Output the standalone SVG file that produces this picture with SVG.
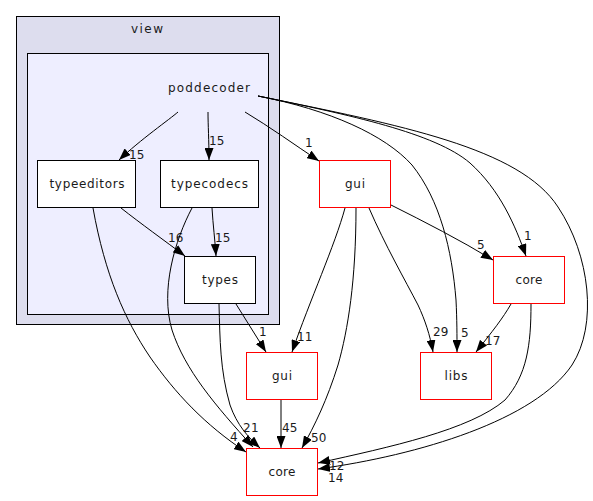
<svg xmlns="http://www.w3.org/2000/svg" width="593" height="501" viewBox="0 0 593 501">
<defs>
<marker id="arr" viewBox="0 0 12 9" refX="12" refY="4.5" markerWidth="12" markerHeight="9" markerUnits="userSpaceOnUse" orient="auto">
<path d="M0,0 L12,4.5 L0,9 z" fill="#000"/>
</marker>
<style>
text{font-family:"DejaVu Sans","Liberation Sans",sans-serif;font-size:12px;fill:#1a1a1a}
.n{text-anchor:middle}
.l{font-size:12px}
.box{fill:#fff;stroke:#000;stroke-width:1}
.ext{fill:#fff;stroke:#ff0000;stroke-width:1}
.e{fill:none;stroke:#000;stroke-width:1;marker-end:url(#arr)}
</style>
</defs>
<rect width="593" height="501" fill="#fff"/>
<g id="cluster_view">
<rect x="16.5" y="16.5" width="263" height="308" fill="#ddddee" stroke="#000"/>
<text class="n" x="147" y="33" textLength="32" lengthAdjust="spacing">view</text>
</g>
<g id="cluster_poddecoder">
<rect x="27.5" y="53.5" width="241" height="261" fill="#eeeeff" stroke="#000"/>
<text class="n" x="209" y="92" textLength="82" lengthAdjust="spacing">poddecoder</text>
</g>
<g id="typeeditors">
<rect class="box" x="37.5" y="160.5" width="98" height="47"/>
<text class="n" x="87" y="188" textLength="75" lengthAdjust="spacing">typeeditors</text>
</g>
<g id="typecodecs">
<rect class="box" x="160.5" y="160.5" width="98" height="47"/>
<text class="n" x="209.5" y="188" textLength="77" lengthAdjust="spacing">typecodecs</text>
</g>
<g id="types">
<rect class="box" x="184.5" y="256.5" width="71" height="47"/>
<text class="n" x="220" y="284" textLength="36" lengthAdjust="spacing">types</text>
</g>
<g id="gui_top">
<rect class="ext" x="319.5" y="160.5" width="71" height="47"/>
<text class="n" x="355" y="188" textLength="20" lengthAdjust="spacing">gui</text>
</g>
<g id="core_right">
<rect class="ext" x="493.5" y="256.5" width="71" height="47"/>
<text class="n" x="529" y="284" textLength="27" lengthAdjust="spacing">core</text>
</g>
<g id="gui_bottom">
<rect class="ext" x="246.5" y="352.5" width="71" height="47"/>
<text class="n" x="282" y="380" textLength="20" lengthAdjust="spacing">gui</text>
</g>
<g id="libs">
<rect class="ext" x="420.5" y="352.5" width="71" height="47"/>
<text class="n" x="456" y="380" textLength="23" lengthAdjust="spacing">libs</text>
</g>
<g id="core_bottom">
<rect class="ext" x="246.5" y="448.5" width="71" height="47"/>
<text class="n" x="282" y="476" textLength="27" lengthAdjust="spacing">core</text>
</g>
<g id="connectors">
<path class="e" d="M178,112 C170,119 140,140 119,160"/>
<text class="l" x="129" y="159">15</text>
<path class="e" d="M208,112 C208,125 209,140 209,160"/>
<text class="l" x="209" y="145">15</text>
<path class="e" d="M245,112 C270,127 295,145 319,161"/>
<text class="l" x="305" y="147">1</text>
<path class="e" d="M121,208 C140,223 165,241 185,256"/>
<text class="l" x="168" y="242">16</text>
<path class="e" d="M212,208 C213,225 215,240 216,256"/>
<text class="l" x="215" y="242">15</text>
<path class="e" d="M236,304 C246,320 256,336 266,352"/>
<text class="l" x="259" y="336">1</text>
<path class="e" d="M345,208 C335,245 310,300 292,352"/>
<text class="l" x="297" y="341">11</text>
<path class="e" d="M356,208 C356,280 348,330 338,365 C327,400 315,425 302,448"/>
<text class="l" x="311" y="442">50</text>
<path class="e" d="M369,208 C385,245 405,280 418,305 C425,320 430,335 433,352"/>
<text class="l" x="433" y="336">29</text>
<path class="e" d="M391,205 C425,222 460,240 493,260"/>
<text class="l" x="477" y="249">5</text>
<path class="e" d="M258,96 C330,110 385,135 412,165 C440,200 452,250 456,300 C457,320 457,335 457,352"/>
<text class="l" x="461" y="337">5</text>
<path class="e" d="M258,96 C350,115 435,133 470,163 C500,190 515,225 526,256"/>
<text class="l" x="524" y="240">1</text>
<path class="e" d="M258,96 C400,125 520,148 558,207 C590,255 598,325 572,365 C535,420 420,455 318,469"/>
<text class="l" x="328" y="482">14</text>
<path class="e" d="M511,304 C503,318 492,332 476,352"/>
<text class="l" x="485" y="345">17</text>
<path class="e" d="M531,304 C531,345 527,375 505,400 C470,430 390,447 318,463"/>
<text class="l" x="329" y="470">12</text>
<path class="e" d="M93,208 C105,275 125,320 150,357 C175,393 205,425 246,452"/>
<text class="l" x="230" y="441">4</text>
<path class="e" d="M192,208 C175,240 160,290 172,330 C185,370 215,405 253,447"/>
<text class="l" x="243" y="432">2</text>
<path class="e" d="M219,304 C220,340 220,370 230,405 C237,425 248,437 260,448"/>
<text class="l" x="251" y="432">1</text>
<path class="e" d="M281,400 L281,448"/>
<text class="l" x="282" y="432">45</text>
</g>
</svg>
